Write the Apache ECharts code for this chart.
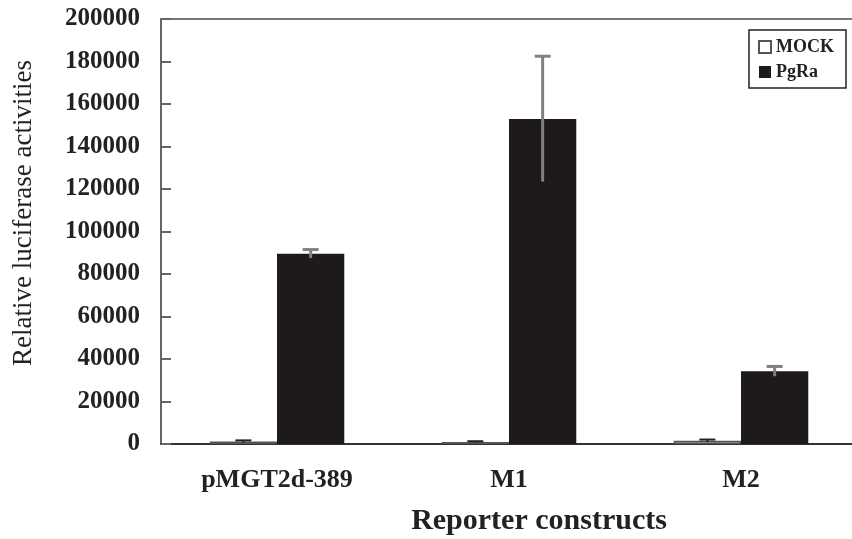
<!DOCTYPE html>
<html>
<head>
<meta charset="utf-8">
<script src="https://cdn.jsdelivr.net/npm/echarts@6/dist/echarts.min.js"></script>
<style>
  html, body { margin: 0; padding: 0; background: #fff; overflow: hidden; }
  #main { width: 862px; height: 539px; }
</style>
</head>
<body>
<div id="main"></div>
<script>
// reporter constructs on the x axis
const categories = ['pMGT2d-389', 'M1', 'M2'];
// MOCK (open bars) and PgRa (black bars), mean and error
const mockValues = [1200, 1000, 1500];
const mockErrors = [500, 300, 600];
const pgraValues = [89500, 153000, 34200];
const pgraErrors = [2000, 29500, 2300];
const yTicks = [0, 20000, 40000, 60000, 80000, 100000, 120000, 140000, 160000, 180000, 200000];

// the plot runs a little past the right edge of the picture, so the div is wider than the window
const chart = echarts.init(document.getElementById('main'));
const serif = '"Liberation Serif", "DejaVu Serif", serif';
const barPct = 0.29;

// error bars sit on the bar centres, left bar (-1) or right bar (+1)
function errorSeries(name, values, errors, side, color, width) {
  return {
    type: 'custom',
    name: name + ' err',
    z: 5,
    silent: true,
    data: values.map((v, i) => [i, v, errors[i]]),
    renderItem: function (params, api) {
      const i = api.value(0);
      const v = api.value(1);
      const e = api.value(2);
      const band = api.size([1, 0])[0];
      const dx = side * band * barPct / 2;
      const top = api.coord([i, v + e]);
      const bot = api.coord([i, v - e]);
      const x = top[0] + dx;
      const cap = 8;
      return {
        type: 'group',
        children: [
          { type: 'line', shape: { x1: x, y1: top[1], x2: x, y2: bot[1] }, style: { stroke: color, lineWidth: width } },
          { type: 'line', shape: { x1: x - cap, y1: top[1], x2: x + cap, y2: top[1] }, style: { stroke: color, lineWidth: width } }
        ]
      };
    }
  };
}

const option = {
  backgroundColor: '#fff',
  animation: false,
  grid: { left: 161, top: 19, right: 5, bottom: 95 },
  legend: {
    data: ['MOCK', 'PgRa'],
    orient: 'vertical',
    left: 749, top: 30,
    padding: [8, 12, 7, 9],
    itemWidth: 12, itemHeight: 12, itemGap: 7,
    borderColor: '#222', borderWidth: 1.5,
    icon: 'rect',
    textStyle: { fontFamily: serif, fontWeight: 'bold', fontSize: 18, color: '#222' }
  },
  xAxis: [
    {
      type: 'category',
      data: categories,
      axisLine: { lineStyle: { color: '#333', width: 2 } },
      axisTick: { inside: true, length: 10, lineStyle: { color: '#333', width: 2 } },
      axisLabel: { margin: 23, fontFamily: serif, fontWeight: 'bold', fontSize: 26, color: '#222' }
    },
    {
      type: 'category',
      data: categories,
      position: 'top',
      axisLine: { lineStyle: { color: '#777', width: 2 } },
      axisTick: { show: false },
      axisLabel: { show: false }
    }
  ],
  yAxis: {
    type: 'value',
    min: 0, max: 200000, interval: 20000,
    splitLine: { show: false },
    axisLine: { show: true, lineStyle: { color: '#666', width: 2 } },
    axisTick: { show: true, inside: true, length: 10, lineStyle: { color: '#666', width: 2 } },
    axisLabel: {
      margin: 21, fontFamily: serif, fontWeight: 'bold', fontSize: 25, color: '#222',
      formatter: function (v) { return yTicks.indexOf(v) >= 0 ? String(v) : ''; }
    }
  },
  graphic: [
    {
      type: 'text', x: 24, y: 213, rotation: Math.PI / 2,
      style: {
        text: 'Relative luciferase activities', fontFamily: serif, fontSize: 27,
        fill: '#222', align: 'center', verticalAlign: 'middle'
      }
    },
    {
      type: 'text', x: 539, y: 521,
      style: {
        text: 'Reporter constructs', fontFamily: serif, fontWeight: 'bold', fontSize: 30,
        fill: '#222', align: 'center', verticalAlign: 'middle'
      }
    }
  ],
  series: [
    {
      name: 'MOCK', type: 'bar', data: mockValues,
      barWidth: (barPct * 100) + '%', barGap: '0%',
      itemStyle: { color: '#fff', borderColor: '#555', borderWidth: 1.5 }
    },
    {
      name: 'PgRa', type: 'bar', data: pgraValues,
      barWidth: (barPct * 100) + '%', barGap: '0%',
      itemStyle: { color: '#1e1a19' }
    },
    errorSeries('MOCK', mockValues, mockErrors, -1, '#222', 2),
    errorSeries('PgRa', pgraValues, pgraErrors, 1, '#808080', 3)
  ]
};

chart.setOption(option);
</script>
</body>
</html>
